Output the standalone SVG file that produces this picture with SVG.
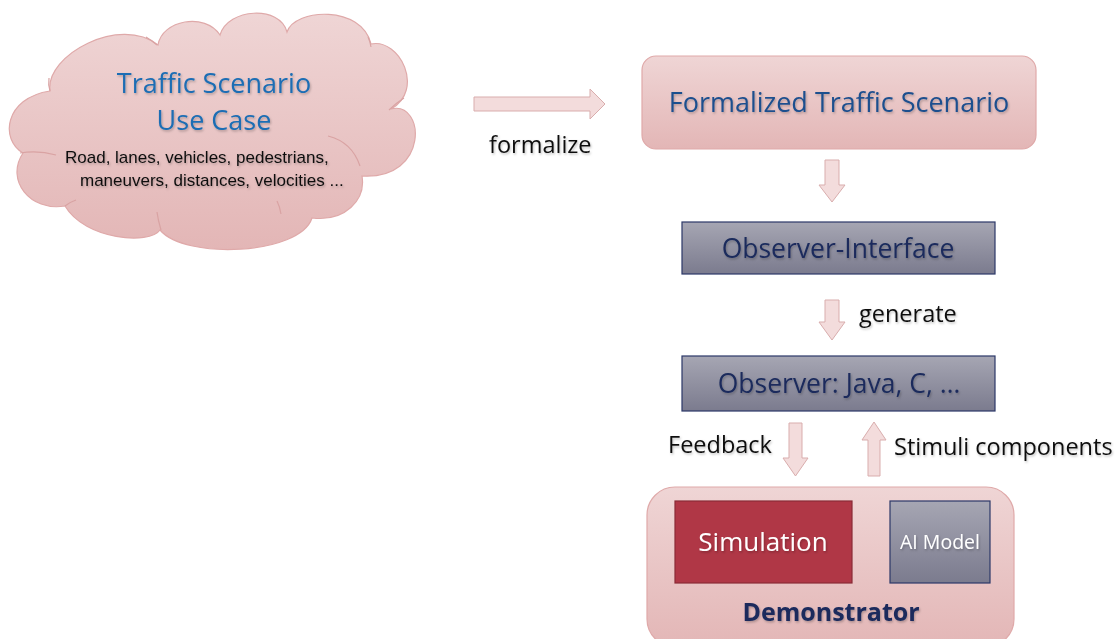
<svg xmlns="http://www.w3.org/2000/svg" width="1117" height="639" viewBox="0 0 1117 639">
  <defs>
    <linearGradient id="pinkFill" x1="0" y1="0" x2="0" y2="1">
      <stop offset="0" stop-color="#efd5d5"/>
      <stop offset="1" stop-color="#e3b6b6"/>
    </linearGradient>
    <linearGradient id="grayFill" x1="0" y1="0" x2="0" y2="1">
      <stop offset="0" stop-color="#a6a6b3"/>
      <stop offset="1" stop-color="#7b7b8e"/>
    </linearGradient>
    <filter id="textShadow" x="-10%" y="-20%" width="120%" height="150%">
      <feDropShadow dx="1" dy="1.5" stdDeviation="1" flood-color="#000" flood-opacity="0.25"/>
    </filter>
    <style>
      .pink { fill: url(#pinkFill); stroke: #dfa9a9; stroke-width: 1.2; }
      .gray { fill: url(#grayFill); stroke: #2c3868; stroke-width: 1.2; }
      .block { fill: #f3dcdc; stroke: #d9adad; stroke-width: 1; }
      .inner { fill: none; stroke: #d9a3a3; stroke-width: 1.2; }
      .sans { font-family: "Open Sans", "DejaVu Sans", sans-serif; font-weight: 500; }
      .arial { font-family: "Liberation Sans", Arial, sans-serif; }
      .shadow { filter: url(#textShadow); }
      .label { font-size: 23.5px; fill: #111; }
      .navy { fill: #1a2a5c; }
    </style>
  </defs>

  <!-- use case cloud -->
  <g id="cloud">
    <path class="pink" d="M 23,153
      C 0,140 4,98 50,91
      C 45,55 120,15 158,45
      C 162,20 205,12 220,35
      C 228,8 280,5 287,32
      C 295,8 362,5 371,44
      C 400,38 425,90 391,109
      C 425,100 430,180 362,176
      C 366,200 345,222 312,218
      C 300,255 185,260 160,230
      C 150,245 85,240 65,206
      C 30,212 5,180 23,153 Z"/>
    <path class="inner" d="M 20,153 Q 38,150 56,155"/>
    <path class="inner" d="M 50,91 Q 48,85 49,78"/>
    <path class="inner" d="M 146,37 Q 151,40 157,45"/>
    <path class="inner" d="M 368,37 Q 370,41 371,47"/>
    <path class="inner" d="M 389,110 Q 396,103 404,98"/>
    <path class="inner" d="M 328,136 Q 352,142 360,166"/>
    <path class="inner" d="M 277,201 Q 280,207 281,214"/>
    <path class="inner" d="M 157,212 Q 158,220 161,230"/>
    <path class="inner" d="M 65,206 Q 70,202 76,200"/>
    <g class="sans shadow" fill="#1b6db4" font-size="27" text-anchor="middle">
      <text x="214" y="93">Traffic Scenario</text>
      <text x="214" y="130">Use Case</text>
    </g>
    <g class="arial shadow" fill="#111" font-size="17">
      <text x="65" y="163">Road, lanes, vehicles, pedestrians,</text>
      <text x="80" y="186">maneuvers, distances, velocities ...</text>
    </g>
  </g>

  <!-- formalized scenario -->
  <g id="formalized">
    <rect class="pink" x="642" y="56" width="394" height="93" rx="14"/>
    <text class="sans shadow" x="839" y="112" font-size="27" fill="#1f4f8e" text-anchor="middle">Formalized Traffic Scenario</text>
  </g>

  <!-- observer interface -->
  <g id="observer-interface">
    <rect class="gray" x="682" y="222" width="313" height="52"/>
    <text class="sans shadow navy" x="838" y="258" font-size="26.5" text-anchor="middle">Observer-Interface</text>
  </g>

  <!-- generated observer -->
  <g id="observer">
    <rect class="gray" x="682" y="356" width="313" height="55"/>
    <text class="sans shadow navy" x="839" y="393" font-size="26.5" text-anchor="middle">Observer: Java, C, …</text>
  </g>

  <!-- demonstrator with simulation and AI model -->
  <g id="demonstrator">
    <rect class="pink" x="647" y="487" width="367" height="160" rx="28"/>
    <text class="sans shadow navy" x="831" y="621" font-size="25" style="font-weight:bold" text-anchor="middle">Demonstrator</text>
  </g>
  <g id="simulation">
    <rect x="675" y="501" width="177" height="82" fill="#b03746" stroke="#8a2a36" stroke-width="1.2"/>
    <text class="sans shadow" x="763" y="551" font-size="26" fill="#fff" text-anchor="middle">Simulation</text>
  </g>
  <g id="ai-model">
    <rect class="gray" x="890" y="501" width="100" height="82"/>
    <text class="sans shadow" x="940" y="549" font-size="19.5" fill="#fff" text-anchor="middle">AI Model</text>
  </g>

  <!-- block arrows between the stages -->
  <g id="connectors">
    <path class="block" d="M 474,97 H 590 V 89 L 605,104 L 590,119 V 111 H 474 Z"/>
    <path class="block" d="M 825,160 H 839 V 185 H 845 L 832,202 L 819,185 H 825 Z"/>
    <path class="block" d="M 825,300 H 839 V 322 H 845 L 832,340 L 819,322 H 825 Z"/>
    <path class="block" d="M 789,423 H 802 V 458 H 808 L 795.5,476 L 783,458 H 789 Z"/>
    <path class="block" d="M 868,476 H 880 V 440 H 886 L 874,422 L 862,440 H 868 Z"/>
    <g class="sans shadow label">
      <text x="489" y="153">formalize</text>
      <text x="859" y="322">generate</text>
      <text x="668" y="453">Feedback</text>
      <text x="894" y="455">Stimuli components</text>
    </g>
  </g>
</svg>
